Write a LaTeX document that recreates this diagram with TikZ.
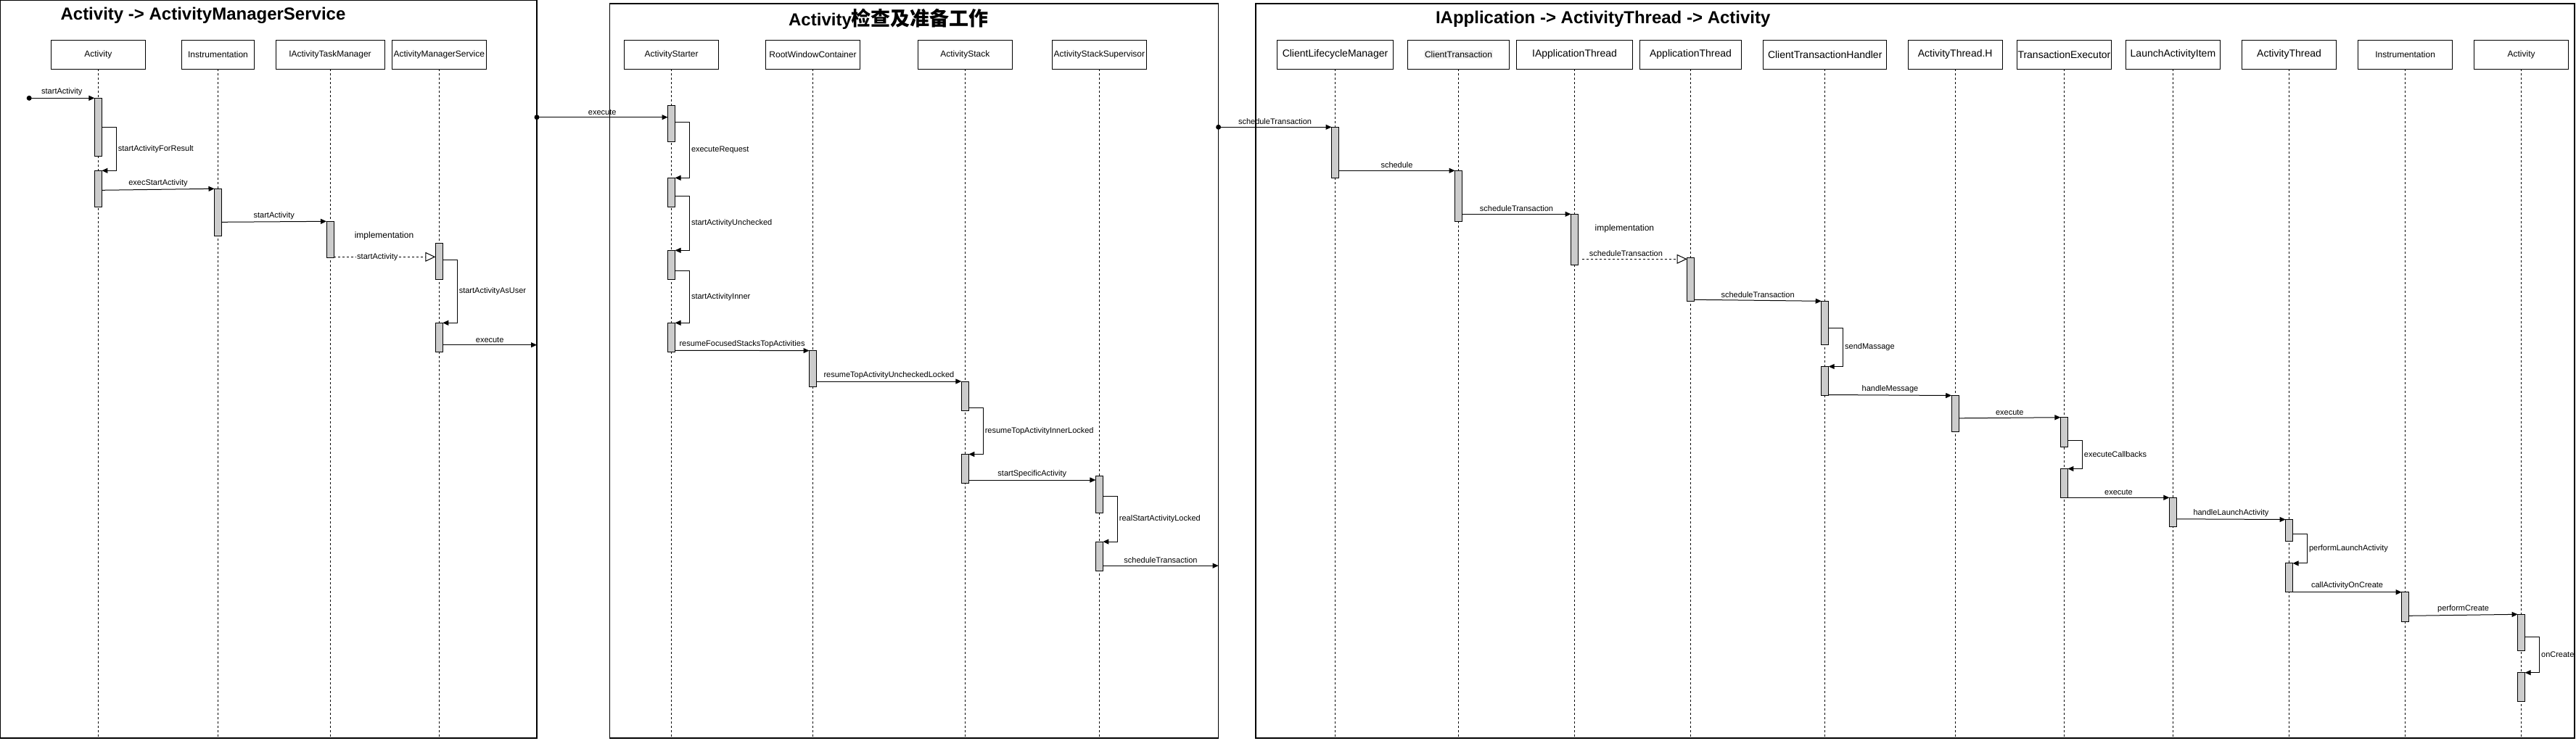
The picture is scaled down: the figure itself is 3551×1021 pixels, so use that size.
\documentclass[tikz,border=0pt]{standalone}
\usepackage{fontspec}
\setmainfont{Liberation Sans}
\newfontfamily\cjkfont{Noto Sans CJK SC}
\usetikzlibrary{arrows.meta}
\definecolor{actgray}{HTML}{CCCCCC}
\definecolor{ctbg}{HTML}{F0F0F0}
\newcommand\fsz[1]{\fontsize{#1}{#1}\selectfont}
\begin{document}
\begin{tikzpicture}[x=1pt,y=-1pt,
  frame/.style={draw, line width=1.1pt, inner sep=0, outer sep=0, anchor=north west},
  ttl/.style={font=\fsz{24}\bfseries, inner sep=0},
  hdr/.style={draw, line width=1pt, inner sep=0, outer sep=0, minimum height=40pt},
  life/.style={line width=0.8pt, dash pattern=on 3pt off 3pt},
  act/.style={draw, fill=actgray, line width=1pt, minimum width=10pt, inner sep=0, outer sep=0, anchor=north},
  msg/.style={line width=1pt, -{Triangle[length=8pt,width=7pt]}},
  dmsg/.style={line width=1pt, dash pattern=on 3pt off 3pt, -{Triangle[fill=white, length=14pt, width=13pt]}},
  lbl/.style={font=\fsz{11}, inner sep=3pt},
  slbl/.style={font=\fsz{11}, inner sep=2pt, right},
  note/.style={font=\fsz{12}, inner sep=0}
]
\useasboundingbox (0,0) rectangle (3551,1021);
% frames
\node[frame, minimum width=739.3pt, minimum height=1017.3pt] (F1) at (0.7,0.7) {};
\node[frame, minimum width=839.2pt, minimum height=1013pt] (F2) at (840.4,5) {};
\node[frame, minimum width=1818pt, minimum height=1013pt] (F3) at (1731,5) {};
% titles
\node[ttl] (t1) at (280,21.7) {Activity -> ActivityManagerService};
\node[ttl] (t2) at (1225,26.7) {Activity{\cjkfont\fsz{27}检查及准备工作}};
\node[ttl] (t3) at (2209.7,26.7) {IApplication -> ActivityThread -> Activity};
% headers and lifelines
\coordinate (bot) at (0,1016);
\foreach \n/\x/\w/\s/\t in {
 hA/135.4/130/12/Activity,
 hI/300.5/100/12/Instrumentation,
 hT/455/150/12/IActivityTaskManager,
 hM/605.3/130/12/ActivityManagerService,
 hS/925.5/130/12/ActivityStarter,
 hR/1120.5/130/12/RootWindowContainer,
 hK/1330.3/130/12/ActivityStack,
 hU/1515.4/130/12/ActivityStackSupervisor,
 hC/1840.5/160/14/ClientLifecycleManager,
 hP/2170.5/160/14/IApplicationThread,
 hQ/2330.5/140/14/ApplicationThread,
 hH/2515.7/170/14/ClientTransactionHandler,
 hG/2695.2/130/14/ActivityThread.H,
 hE/2845.4/130/14/TransactionExecutor,
 hL/2995.4/130/14/LaunchActivityItem,
 hW/3155.5/130/14/ActivityThread,
 hN/3315.6/130/12/Instrumentation,
 hV/3475.6/130/12/Activity}
{\node[hdr, minimum width=\w pt, font=\fsz{\s}] (\n) at (\x,75.3) {\t};
 \draw[life] (\n.south) -- (\n.south |- bot);}
\node[hdr, minimum width=140pt, font=\fsz{12}] (hX) at (2010.5,75.3) {\setlength{\fboxsep}{1.5pt}\colorbox{ctbg}{ClientTransaction}};
\draw[life] (hX.south) -- (hX.south |- bot);

% activations frame 1
\node[act, minimum height=80pt] (A1) at (135.4,135.3) {};
\node[act, minimum height=50pt] (A2) at (135.4,235.3) {};
\node[act, minimum height=64.7pt] (I1) at (300.5,260.3) {};
\node[act, minimum height=50pt] (T1) at (455,305.3) {};
\node[act, minimum height=50pt] (M1) at (605.3,335.3) {};
\node[act, minimum height=40pt] (M2) at (605.3,445.3) {};
% activations frame 2
\node[act, minimum height=50pt] (S1) at (925.5,145.3) {};
\node[act, minimum height=40pt] (S2) at (925.5,245.3) {};
\node[act, minimum height=40pt] (S3) at (925.5,345.3) {};
\node[act, minimum height=40pt] (S4) at (925.5,445.3) {};
\node[act, minimum height=50.1pt] (R1) at (1120.5,483.6) {};
\node[act, minimum height=40pt] (K1) at (1330.3,526) {};
\node[act, minimum height=40.1pt] (K2) at (1330.3,626.5) {};
\node[act, minimum height=50.4pt] (U1) at (1515.4,656.6) {};
\node[act, minimum height=40.1pt] (U2) at (1515.4,747.1) {};
% activations frame 3
\node[act, minimum height=70pt] (C1) at (1840.5,175.3) {};
\node[act, minimum height=70pt] (X1) at (2010.5,235.3) {};
\node[act, minimum height=70pt] (P1) at (2170.5,295.3) {};
\node[act, minimum height=60pt] (Q1) at (2330.5,355.3) {};
\node[act, minimum height=60pt] (H1) at (2515.7,415.3) {};
\node[act, minimum height=40pt] (H2) at (2515.7,505.5) {};
\node[act, minimum height=50.3pt] (G1) at (2695.2,545.5) {};
\node[act, minimum height=40.3pt] (E1) at (2845.4,575.7) {};
\node[act, minimum height=39.8pt] (E2) at (2845.4,646.5) {};
\node[act, minimum height=40.3pt] (L1) at (2995.4,686.3) {};
\node[act, minimum height=30.2pt] (W1) at (3155.5,716.5) {};
\node[act, minimum height=39.8pt] (W2) at (3155.5,776.9) {};
\node[act, minimum height=40.3pt] (N1) at (3315.6,816.7) {};
\node[act, minimum height=50.2pt] (V1) at (3475.6,847.3) {};
\node[act, minimum height=39.9pt] (V2) at (3475.6,927.7) {};

% messages frame 1
\coordinate (s0) at (40.2,135.3);
\fill (s0) circle[radius=3.5pt];
\draw[msg] (s0) -- node[lbl, above]{startActivity} (A1.north west);
\draw[msg] ([yshift=-40pt]A1.north east) -- ++(20,0) |- node[slbl, pos=0.25]{startActivityForResult} (A2.north east);
\draw[msg] ([yshift=-27pt]A2.north east) -- node[lbl, above]{execStartActivity} (I1.north west);
\draw[msg] ([yshift=-46pt]I1.north east) -- node[lbl, above]{startActivity} (T1.north west);
\node[note] (im1) at (529.5,325.7) {implementation};
\draw[dmsg] ([yshift=-49pt]T1.north east) -- node[font=\fsz{11}, fill=white, inner sep=1pt, pos=0.43]{startActivity} ([yshift=-19pt]M1.north west);
\draw[msg] ([yshift=-23pt]M1.north east) -- ++(20,0) |- node[slbl, pos=0.25]{startActivityAsUser} (M2.north east);
\coordinate (m2o) at ([yshift=-30.4pt]M2.north east);
\draw[msg] (m2o) -- node[lbl, above]{execute} (m2o -| F1.east);

% messages frame 2
\coordinate (s1in) at ([yshift=-16.4pt]S1.north west);
\coordinate (d1) at (s1in -| F1.east);
\fill (d1) circle[radius=3.5pt];
\draw[msg] (d1) -- node[lbl, above]{execute} (s1in);
\draw[msg] ([yshift=-23.4pt]S1.north east) -- ++(20,0) |- node[slbl, pos=0.25]{executeRequest} (S2.north east);
\draw[msg] ([yshift=-25pt]S2.north east) -- ++(20,0) |- node[slbl, pos=0.25]{startActivityUnchecked} (S3.north east);
\draw[msg] ([yshift=-28pt]S3.north east) -- ++(20,0) |- node[slbl, pos=0.25]{startActivityInner} (S4.north east);
\draw[msg] ([yshift=-38pt]S4.north east) -- node[lbl, above]{resumeFocusedStacksTopActivities} (R1.north west);
\draw[msg] ([yshift=-42.4pt]R1.north east) -- node[lbl, above]{resumeTopActivityUncheckedLocked} (K1.north west);
\draw[msg] ([yshift=-36.2pt]K1.north east) -- ++(20,0) |- node[slbl, pos=0.25]{resumeTopActivityInnerLocked} (K2.north east);
\draw[msg] ([yshift=-35.5pt]K2.north east) -- node[lbl, above]{startSpecificActivity} ([yshift=-5.4pt]U1.north west);
\draw[msg] ([yshift=-28.1pt]U1.north east) -- ++(20,0) |- node[slbl, pos=0.25]{realStartActivityLocked} (U2.north east);
\coordinate (u2o) at ([yshift=-33.1pt]U2.north east);
\draw[msg] (u2o) -- node[lbl, above]{scheduleTransaction} (u2o -| F2.east);

% messages frame 3
\coordinate (d2) at (C1.north west -| F2.east);
\fill (d2) circle[radius=3.5pt];
\draw[msg] (d2) -- node[lbl, above]{scheduleTransaction} (C1.north west);
\draw[msg] ([yshift=-60pt]C1.north east) -- node[lbl, above]{schedule} (X1.north west);
\draw[msg] ([yshift=-60pt]X1.north east) -- node[lbl, above]{scheduleTransaction} (P1.north west);
\node[note] (im2) at (2239.4,315.7) {implementation};
\draw[dmsg] ([xshift=5pt,yshift=-62pt]P1.north east) -- node[lbl, above, pos=0.42]{scheduleTransaction} ([yshift=-2pt]Q1.north west);
\draw[msg] ([yshift=-58pt]Q1.north east) -- node[lbl, above]{scheduleTransaction} (H1.north west);
\draw[msg] ([yshift=-37pt]H1.north east) -- ++(20,0) |- node[slbl, pos=0.25]{sendMassage} (H2.north east);
\draw[msg] ([yshift=-39pt]H2.north east) -- node[lbl, above]{handleMessage} (G1.north west);
\draw[msg] ([yshift=-31.3pt]G1.north east) -- node[lbl, above]{execute} (E1.north west);
\draw[msg] ([yshift=-31.3pt]E1.north east) -- ++(20,0) |- node[slbl, pos=0.25]{executeCallbacks} (E2.north east);
\draw[msg] ([yshift=-39.8pt]E2.north east) -- node[lbl, above]{execute} (L1.north west);
\draw[msg] ([yshift=-29.5pt]L1.north east) -- node[lbl, above]{handleLaunchActivity} (W1.north west);
\draw[msg] ([yshift=-20.1pt]W1.north east) -- ++(20,0) |- node[slbl, pos=0.25]{performLaunchActivity} (W2.north east);
\draw[msg] ([yshift=-39.8pt]W2.north east) -- node[lbl, above]{callActivityOnCreate} (N1.north west);
\draw[msg] ([yshift=-32.6pt]N1.north east) -- node[lbl, above]{performCreate} (V1.north west);
\draw[msg] ([yshift=-31.2pt]V1.north east) -- ++(20,0) |- node[slbl, pos=0.25]{onCreate} (V2.north east);
\end{tikzpicture}
\end{document}
